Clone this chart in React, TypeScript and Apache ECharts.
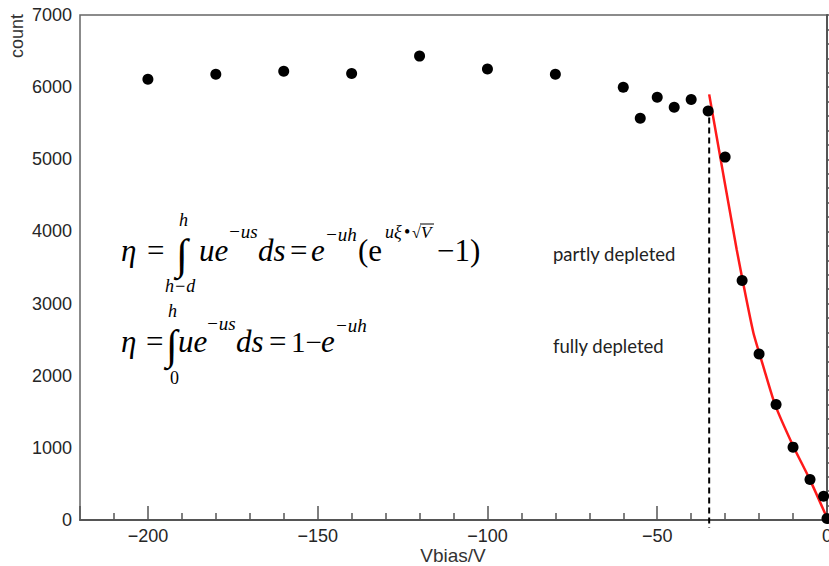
import React, { useEffect, useRef } from 'react';
import * as echarts from 'echarts';

// Measured points (bias voltage in V, counts)
const biasV = [-200, -180, -160, -140, -120, -100, -80, -60, -55, -50, -45, -40, -35, -30, -25, -20, -15, -10, -5, -1, 0];
const counts = [6110, 6180, 6220, 6190, 6430, 6250, 6180, 6000, 5570, 5860, 5720, 5830, 5670, 5030, 3320, 2300, 1600, 1010, 560, 330, 20];

// Red fit curve (partly depleted region)
const fitV = [-34.7, -30.5, -26.6, -24.8, -21.7, -18.7, -15.3, -9.9, -5, 0];
const fitCounts = [5900, 4780, 3750, 3310, 2600, 2120, 1600, 1020, 556, 30];

// Full depletion voltage divider
const depletionV = -34.7;
const dividerCounts = [5580, -110];

const xMin = -220;
const xMax = 0;
const yMin = 0;
const yMax = 7000;
const yStep = 1000;

const serif = '"Liberation Serif", "Times New Roman", serif';
const sans = 'Liberation Sans';

function txt(text: string, x: number, baseline: number, size: number, italic = false) {
  return {
    type: 'text',
    x,
    y: baseline - 0.34 * size,
    silent: true,
    style: {
      text,
      font: `${italic ? 'italic ' : ''}${size}px ${serif}`,
      fill: '#000',
      textAlign: 'left',
      textVerticalAlign: 'middle',
      align: 'left',
      verticalAlign: 'middle',
    },
  };
}

function formulaGraphics() {
  const g: any[] = [];
  // Line 1: partly depleted
  const b1 = 261;
  g.push(txt('η', 121, b1, 31, true));
  g.push(txt('=', 147, b1, 31));
  g.push(txt('∫', 176, b1 + 8, 43));
  g.push(txt('h', 179, 226, 18, true));
  g.push(txt('h−d', 165, 292, 18, true));
  g.push(txt('ue', 199, b1, 31, true));
  g.push(txt('−us', 228, 238, 19, true));
  g.push(txt('ds', 258, b1, 31, true));
  g.push(txt('=', 290, b1, 31));
  g.push(txt('e', 311, b1, 31, true));
  g.push(txt('−uh', 325, 241, 19, true));
  g.push(txt('(e', 358, b1, 31));
  g.push(txt('uξ', 385, 238, 18, true));
  g.push(txt('•', 404, 238, 18));
  g.push(txt('√', 412, 238, 16));
  g.push(txt('V', 421, 238, 17, true));
  g.push({ type: 'line', silent: true, shape: { x1: 420, y1: 224, x2: 434, y2: 224 }, style: { stroke: '#000', lineWidth: 1 } });
  g.push(txt('−1)', 437, b1, 31));

  // Line 2: fully depleted
  const b2 = 352;
  g.push(txt('η', 121, b2, 31, true));
  g.push(txt('=', 146, b2, 31));
  g.push(txt('∫', 166, b2 + 7, 42));
  g.push(txt('h', 168, 317, 18, true));
  g.push(txt('0', 170, 384, 18));
  g.push(txt('ue', 178, b2, 31, true));
  g.push(txt('−us', 206, 330, 19, true));
  g.push(txt('ds', 236, b2, 31, true));
  g.push(txt('=', 269, b2, 31));
  g.push(txt('1−', 291, b2, 29));
  g.push(txt('e', 321, b2, 31, true));
  g.push(txt('−uh', 335, 332, 19, true));

  const note = (text: string, y: number) => ({
    type: 'text', x: 553, y, silent: true,
    style: { text, font: '18.5px Lato, "Open Sans", sans-serif', fill: '#222', textAlign: 'left', textVerticalAlign: 'middle', align: 'left', verticalAlign: 'middle' },
  });
  g.push(note('partly depleted', 254));
  g.push(note('fully depleted', 346));

  g.push({
    type: 'text', x: 17, y: 36, rotation: Math.PI / 2, silent: true,
    style: { text: 'count', font: '18px "Liberation Sans", Arial, sans-serif', fill: '#333', textAlign: 'center', textVerticalAlign: 'middle', align: 'center', verticalAlign: 'middle' },
  });
  g.push({
    type: 'text', x: 453, y: 555, silent: true,
    style: { text: 'Vbias/V', font: '19px "Liberation Sans", Arial, sans-serif', fill: '#333', textAlign: 'center', textVerticalAlign: 'middle', align: 'center', verticalAlign: 'middle' },
  });
  return g;
}

const axisColor = '#555';
const fmtX = (v: number) => (v < 0 ? '\u2212' + Math.abs(v) : String(v));
const fmtY = (v: number) => String(v);

export default function App() {
  const ref = useRef<HTMLDivElement>(null);
  useEffect(() => {
    const chart = echarts.init(ref.current!, null, { renderer: 'svg' });
    const option: any = {
      animation: false,
      backgroundColor: '#fff',
      grid: {
        left: 80, right: 2, top: 15, bottom: 46,
        show: true, borderColor: '#666', borderWidth: 1.5,
        outerBoundsMode: 'none',
      },
      xAxis: {
        type: 'value', min: xMin, max: xMax,
        axisLine: { show: true, lineStyle: { color: axisColor, width: 2 } },
        axisTick: { show: true, inside: true, length: 14, lineStyle: { color: axisColor, width: 1.5 } },
        minorTick: { show: true, splitNumber: 5, length: 7, lineStyle: { color: axisColor, width: 1.5 } },
        splitLine: { show: false },
        minorSplitLine: { show: false },
        axisLabel: { showMinLabel: false, fontSize: 18, fontFamily: sans, color: '#262626', margin: 7, formatter: fmtX },
      },
      yAxis: {
        type: 'value', min: yMin, max: yMax, interval: yStep,
        axisLine: { show: true, lineStyle: { color: axisColor, width: 2 } },
        axisTick: { show: true, inside: true, length: 23, lineStyle: { color: axisColor, width: 1.5 } },
        minorTick: { show: true, splitNumber: 5, length: 11, lineStyle: { color: axisColor, width: 1.5 } },
        splitLine: { show: false },
        minorSplitLine: { show: false },
        axisLabel: { fontSize: 18, fontFamily: sans, color: '#262626', margin: 8, formatter: fmtY },
      },
      series: [
        {
          type: 'line', name: 'divider', clip: false, silent: true, showSymbol: false, z: 2,
          data: dividerCounts.map((c) => [depletionV, c]),
          lineStyle: { color: '#000', width: 2, type: [6, 4] },
        },
        {
          type: 'line', name: 'fit', showSymbol: false, smooth: 0.2, z: 3,
          data: fitV.map((v, i) => [v, fitCounts[i]]),
          lineStyle: { color: '#ff1a1a', width: 2.5 },
        },
        {
          type: 'scatter', name: 'data', symbol: 'circle', symbolSize: 11, z: 4,
          data: biasV.map((v, i) => [v, counts[i]]),
          itemStyle: { color: '#000', opacity: 1 },
        },
      ],
      graphic: formulaGraphics(),
    };
    chart.setOption(option);
    return () => chart.dispose();
  }, []);
  return (
    <div
      ref={ref}
      style={{ position: 'fixed', left: 0, top: 0, width: 829, height: 566, background: '#fff' }}
    />
  );
}
